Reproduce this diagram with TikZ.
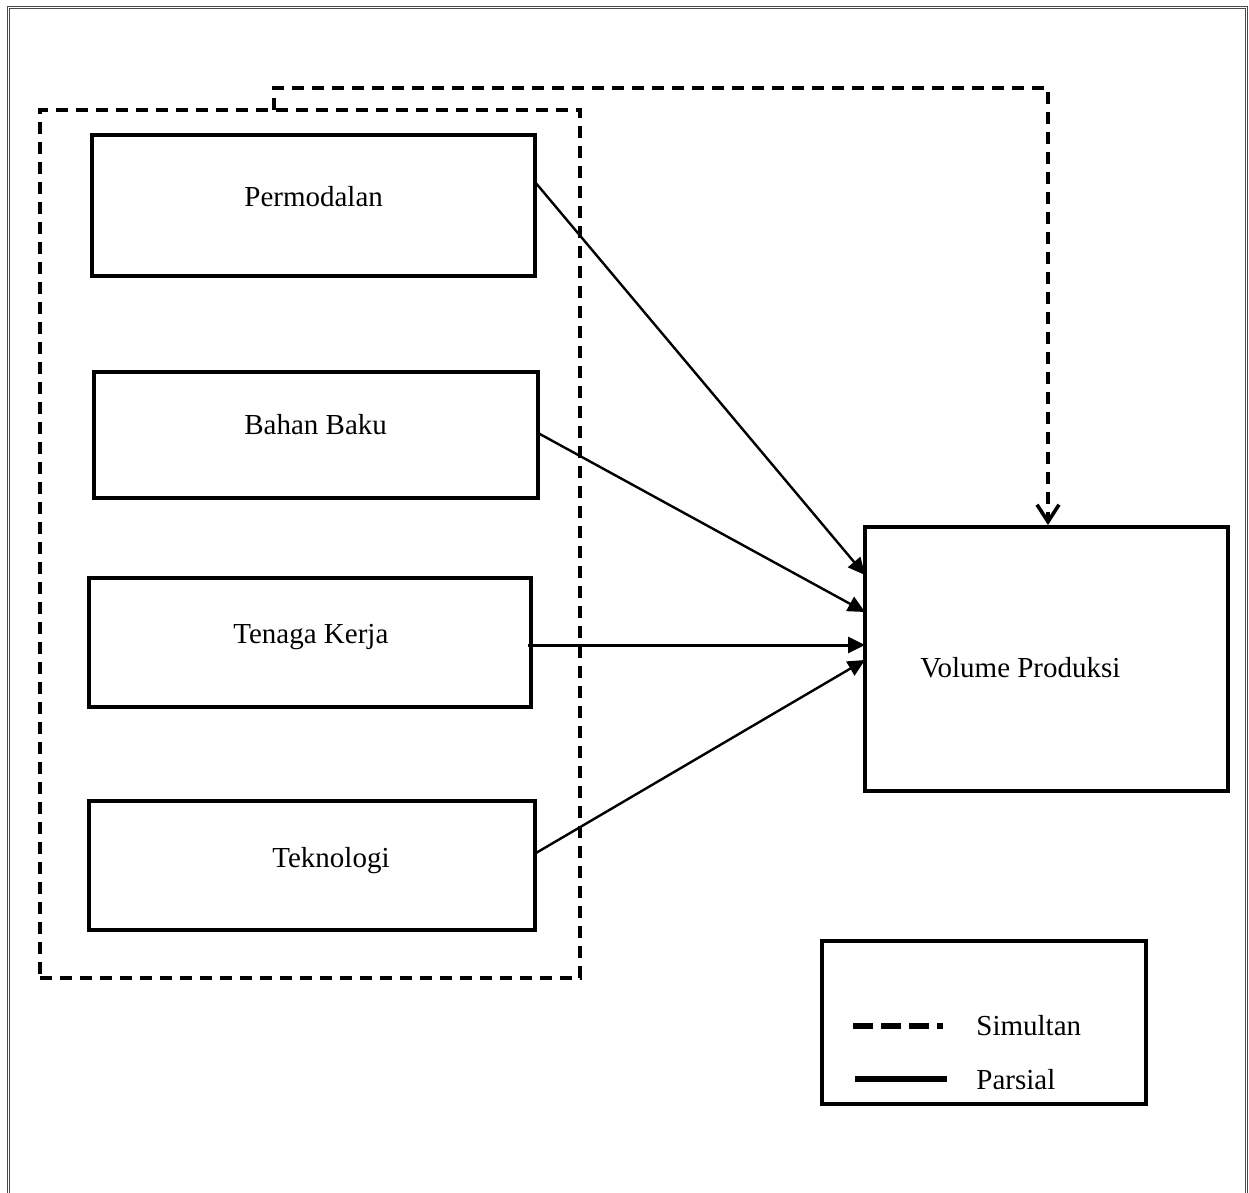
\documentclass[tikz,border=0pt]{standalone}
\usepackage{fontspec}
\setmainfont{Liberation Serif}
\usetikzlibrary{arrows.meta,calc}
\begin{document}
\begin{tikzpicture}[x=0.5pt,y=-0.5pt,
  box/.style={draw,line width=1.9pt,rectangle,inner sep=0pt,outer sep=0pt},
  lbl/.style={anchor=base west,inner sep=0pt,font=\fontsize{14.5}{17}\selectfont},
  part/.style={line width=1.2pt,-{Triangle[length=8.5pt,width=8pt]}},
  simdash/.style={line width=2pt,dash pattern=on 6pt off 4pt},
  frame/.style={draw=black!70,line width=0.5pt}]
\useasboundingbox (0,0) rectangle (1249,1193);
% page frame
\draw[frame] (7.5,1193) -- (7.5,7) -- (1247.5,7) -- (1247.5,1193);
\draw[frame] (9.5,1193) -- (9.5,9) -- (1245.5,9) -- (1245.5,1193);
% group container
\node[draw,simdash,rectangle,inner sep=0pt,outer sep=0pt,minimum width=540*0.5pt,minimum height=868*0.5pt,anchor=north west] (grp) at (40,110) {};
% boxes
\node[box,minimum width=443*0.5pt,minimum height=141*0.5pt,anchor=north west] (perm) at (92,135) {};
\node[box,minimum width=444*0.5pt,minimum height=126*0.5pt,anchor=north west] (bahan) at (94,372) {};
\node[box,minimum width=442*0.5pt,minimum height=129*0.5pt,anchor=north west] (tenaga) at (89,578) {};
\node[box,minimum width=446*0.5pt,minimum height=129*0.5pt,anchor=north west] (tekno) at (89,801) {};
\node[box,minimum width=363*0.5pt,minimum height=264*0.5pt,anchor=north west] (vol) at (865,527) {};
\node[box,minimum width=324*0.5pt,minimum height=163*0.5pt,anchor=north west] (leg) at (822,941) {};
% labels
\node[lbl] (tperm) at (244,206) {Permodalan};
\node[lbl] (tbahan) at (244,434) {Bahan Baku};
\node[lbl] (ttenaga) at (233,643) {Tenaga Kerja};
\node[lbl] (ttekno) at (272,867) {Teknologi};
\node[lbl] (tvol) at (920,677) {Volume Produksi};
\node[lbl] (tsim) at (976,1035) {Simultan};
\node[lbl] (tpar) at (976,1089) {Parsial};
% arrow anchor points
\coordinate (p1) at ($(perm.north east)+(0,47)$);
\coordinate (p2) at ($(bahan.north east)+(0,61)$);
\coordinate (p3) at ($(tenaga.north east)+(-3,67)$);
\coordinate (p4) at ($(tekno.north east)+(1,52)$);
\coordinate (v1) at ($(vol.north west)+(0,48)$);
\coordinate (v2) at ($(vol.north west)+(0,85)$);
\coordinate (v3) at ($(vol.north west)+(0,118)$);
\coordinate (v4) at ($(vol.north west)+(0,133)$);
\draw[part] (p1) -- (v1);
\draw[part] (p2) -- (v2);
\draw[part,line width=1.5pt] (p3) -- (v3);
\draw[part] (p4) -- (v4);
% simultaneous dashed connector
\coordinate (g1) at ($(grp.north west)+(234,0)$);
\coordinate (vt) at ($(vol.north west)+(183,-2)$);
\draw[simdash,-{Straight Barb[length=8.5pt,width=11pt,line width=1.8pt]}] (g1) -- ++(0,-22) -| (vt);
% legend lines
\coordinate (l1a) at (853,1026);
\coordinate (l1b) at (943,1026);
\coordinate (l2a) at (855,1079);
\coordinate (l2b) at (947,1079);
\draw[line width=2.6pt,dash pattern=on 10pt off 4pt] (l1a) -- (l1b);
\draw[line width=2.6pt] (l2a) -- (l2b);
\end{tikzpicture}
\end{document}
